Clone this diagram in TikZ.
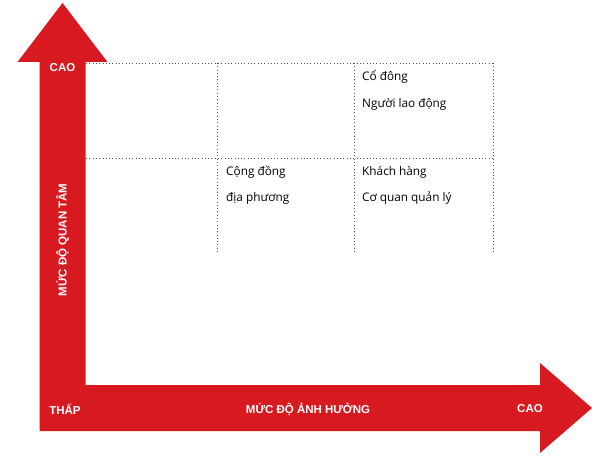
\documentclass[tikz,border=0pt]{standalone}
\usepackage{fontspec}
\setmainfont{Open Sans}
\newfontfamily\axisfont{Liberation Sans}
\usepackage{tikz}
\usetikzlibrary{positioning}
\definecolor{chartred}{RGB}{215,25,32}

\begin{document}
\begin{tikzpicture}[x=1pt,y=-1pt,
    axislabel/.style={text=white,font=\axisfont\bfseries\fontsize{11.5}{13}\selectfont,inner sep=0pt},
    cellitem/.style={anchor=west,font=\fontsize{11.8}{13}\selectfont,inner sep=0pt},
    gridline/.style={gray!60!black,line width=0.7pt,dash pattern=on 0.7pt off 2.6pt}]
    \useasboundingbox (0,0) rectangle (592,457);
    % the two axis arrows, one shape
    \fill[chartred] (39.5,431) -- (39.5,62) -- (17.5,62) -- (62.5,3) -- (107.5,62) -- (85.5,62)
        -- (85.5,385) -- (540,385) -- (540,363) -- (592,408) -- (540,453) -- (540,431) -- cycle;
    % dotted grid
    \draw[gridline] (86,63) -- (493,63);
    \draw[gridline] (86,158) -- (493,158);
    \foreach \x in {217,354,493} \draw[gridline] (\x,63) -- (\x,253);
    % axis labels
    \node[axislabel] (ytop) at (62.5,68) {CAO};
    \node[axislabel,rotate=90] (ytitle) at (62.5,240) {MỨC ĐỘ QUAN TÂM};
    \node[axislabel] (xlow) at (65,409) {THẤP};
    \node[axislabel] (xtitle) at (308,409) {MỨC ĐỘ ẢNH HƯỞNG};
    \node[axislabel] (xhigh) at (530,409) {CAO};
    % stakeholders
    \node[cellitem] (codong) at (362,77) {Cổ đông};
    \node[cellitem] (laodong) at (362,104) {Người lao động};
    \node[cellitem] (congdong) at (226,172) {Cộng đồng};
    \node[cellitem] (diaphuong) at (226,198) {địa phương};
    \node[cellitem] (khachhang) at (362,172) {Khách hàng};
    \node[cellitem] (coquan) at (362,198) {Cơ quan quản lý};
\end{tikzpicture}
\end{document}
